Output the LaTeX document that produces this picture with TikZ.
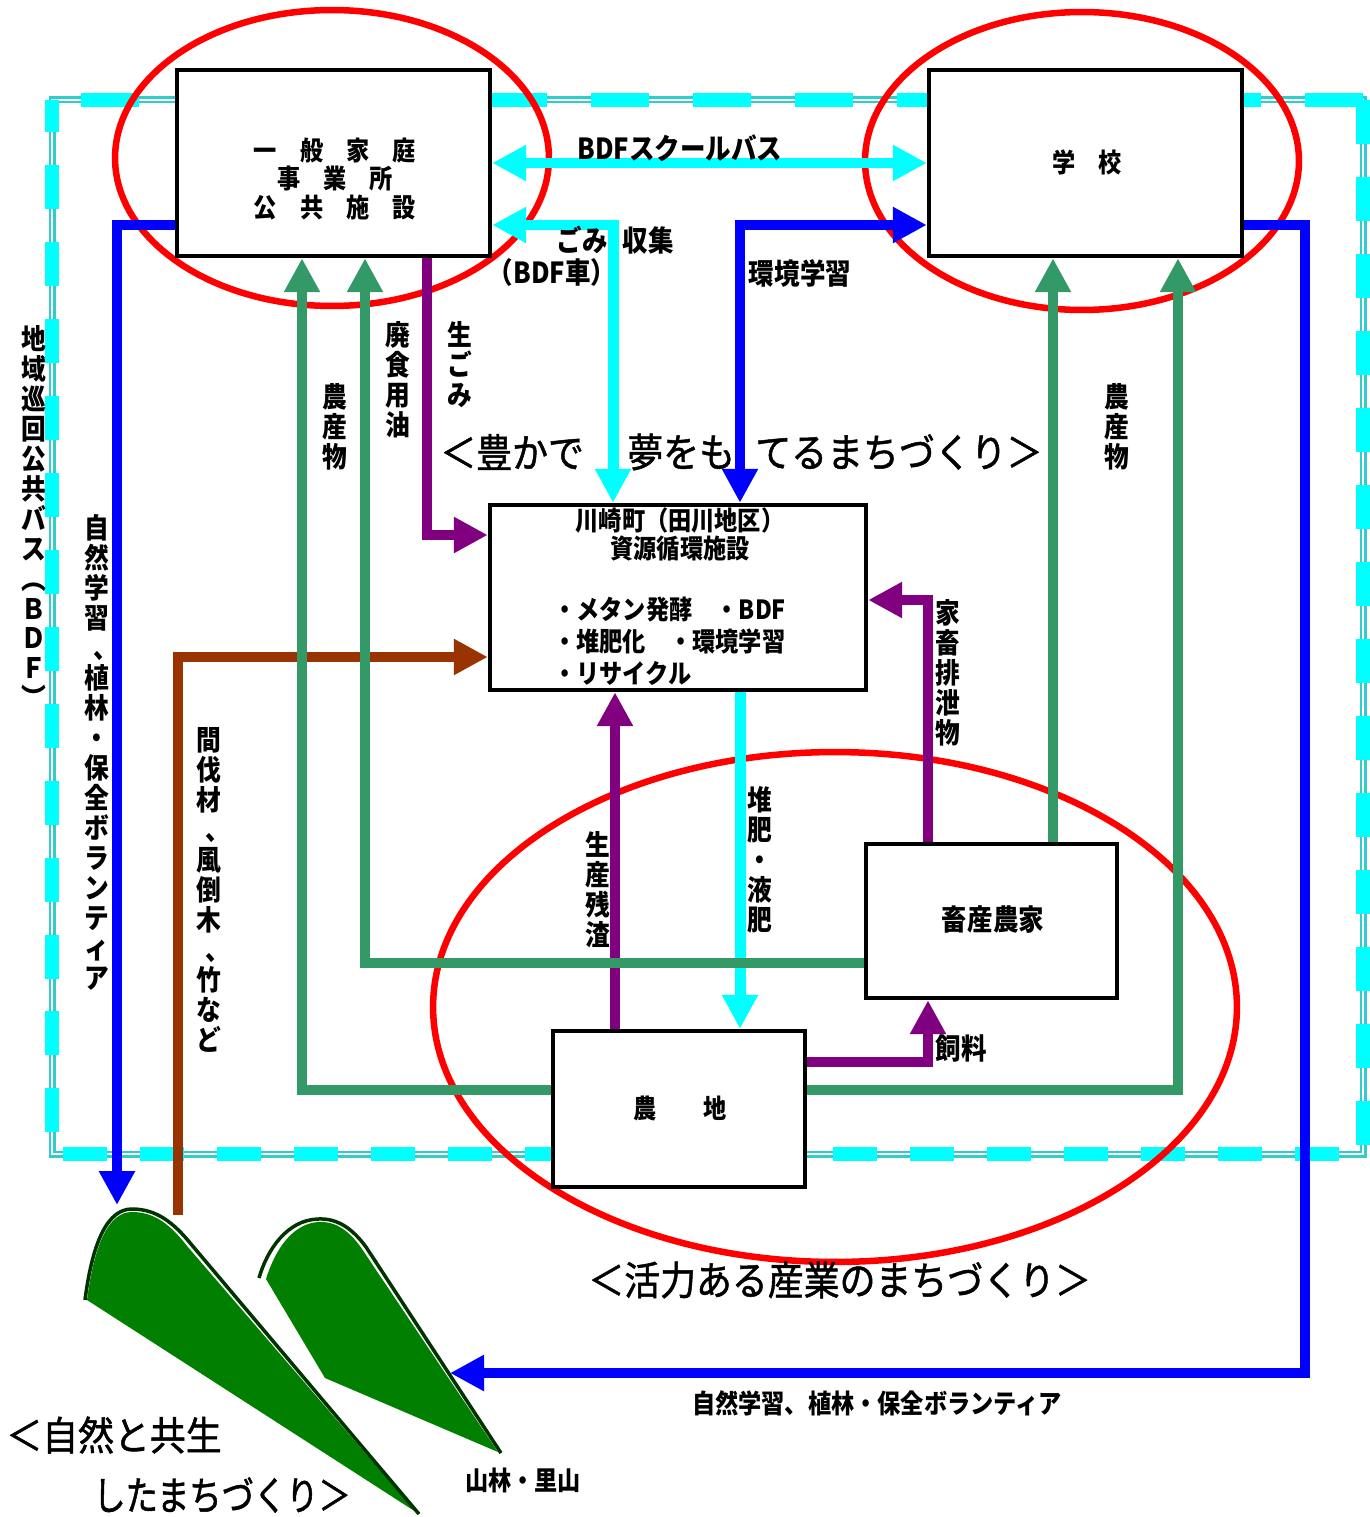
\documentclass[tikz,border=0pt]{standalone}
\usepackage{fontspec}
\setmainfont{Noto Sans CJK JP}
\newfontfamily\jpc{Noto Sans CJK JP}[FakeStretch=0.88]
\newfontfamily\jph{Noto Sans CJK JP}[FakeStretch=0.9, FakeBold=1.2]
\newfontfamily\jphn{Noto Sans CJK JP}[FakeStretch=0.81, FakeBold=1.2]
\usetikzlibrary{arrows.meta}

\definecolor{aqua}{HTML}{00FFFF}
\definecolor{aquadark}{HTML}{33CCCC}
\definecolor{flowblue}{HTML}{0000FF}
\definecolor{flowpurple}{HTML}{800080}
\definecolor{flowgreen}{HTML}{339966}
\definecolor{flowbrown}{HTML}{993300}
\definecolor{treefill}{HTML}{007F00}
\definecolor{treeedge}{HTML}{003300}

% vertical (top-to-bottom) text: one character per line at a fixed pitch
\newlength\vpitch
\setlength\vpitch{0.6cm}
\makeatletter
\def\vst@ck#1{\ifx\relax#1\else\hbox to 1em{\hss#1\hss}\expandafter\vst@ck\fi}
\newcommand\vlabel[1]{\vbox{\baselineskip\vpitch\lineskiplimit-\maxdimen\lineskip0pt\vst@ck#1\relax}}
\makeatother
% ideographic comma moved toward the middle of its cell in vertical text
\newcommand\vcomma{\kern0.3em 、\kern-0.3em}

\pgfdeclarelayer{frame}
\pgfdeclarelayer{links}
\pgfsetlayers{frame,links,main}

\tikzset{
  box/.style={draw=black, line width=0.09cm, fill=white, inner sep=0},
  tipA/.style={-{Triangle[length=0.68cm,width=0.68cm]}},
  tipAA/.style={{Triangle[length=0.68cm,width=0.68cm]}-{Triangle[length=0.68cm,width=0.68cm]}},
  flow/.style={line width=0.2cm},
  cyanflow/.style={flow, draw=aqua, line width=0.22cm},
  blueflow/.style={flow, draw=flowblue},
  purpleflow/.style={flow, draw=flowpurple, tipA},
  greenflow/.style={flow, draw=flowgreen, tipA},
  brownflow/.style={flow, draw=flowbrown, tipA},
  zone/.style={draw=red, line width=0.13cm},
  boxtext/.style={inner sep=0, align=center, font=\jpc\bfseries\fontsize{15}{18}\selectfont},
  lbl/.style={inner sep=0, align=center, font=\jpc\bfseries\fontsize{16.5}{19}\selectfont},
  vlbl/.style={inner sep=0, font=\jpc\bfseries\fontsize{16}{19}\selectfont},
  heading/.style={inner sep=0, anchor=west, font=\jph\fontsize{22.7}{26}\selectfont},
}

\begin{document}
\begin{tikzpicture}[x=0.02cm, y=-0.02cm]
\useasboundingbox (0,0) rectangle (1369,1517);

% ---------- boxes ----------
\node[box, minimum width=6.26cm, minimum height=3.72cm] (home) at (333.5,163) {};
\node[box, minimum width=6.26cm, minimum height=3.72cm] (school) at (1085.5,163) {};
\node[box, minimum width=7.52cm, minimum height=3.70cm] (facility) at (678,597.5) {};
\node[box, minimum width=5.02cm, minimum height=3.08cm] (livestock) at (991.5,921) {};
\node[box, minimum width=5.04cm, minimum height=3.12cm] (farm) at (679,1109) {};

% ---------- town boundary (dashed double line) ----------
\begin{pgfonlayer}{frame}
  \draw[aquadark, line width=0.14cm] (52,100) -- (1363,100) -- (1363,1154) -- (52,1154) -- cycle;
  \draw[white, line width=0.05cm] (52,100) -- (1363,100) -- (1363,1154) -- (52,1154) -- cycle;
  \draw[aqua, line width=0.28cm, dash pattern=on 1.16cm off 0.88cm] (1363,100) -- (52,100);
  \draw[aqua, line width=0.28cm, dash pattern=on 0.88cm off 0.66cm] (1363,100) -- (1363,1154) -- (52,1154) -- (52,100);
  % zones
  \draw[zone] (332,158) ellipse [x radius=4.34cm, y radius=2.96cm];
  \draw[zone] (1082,161) ellipse [x radius=4.34cm, y radius=2.98cm];
  \draw[zone] (835,1007) ellipse [x radius=8.04cm, y radius=5.1cm];
\end{pgfonlayer}

% ---------- mountain forest ----------
\fill[treefill] (87,1300) .. controls (95,1240) and (110,1212) .. (132,1212)
   .. controls (154,1212) and (170,1224) .. (187,1246) -- (416,1512) -- cycle;
\draw[treeedge, line width=0.07cm] (85,1300) .. controls (93,1238) and (109,1209) .. (132,1209)
   .. controls (156,1209) and (173,1222) .. (191,1244) -- (419,1514);
\fill[treefill] (266,1279) .. controls (275,1250) and (292,1224) .. (318,1222)
   .. controls (335,1221) and (349,1230) .. (362,1249) -- (498,1452) -- (325,1378) -- cycle;
\draw[treeedge, line width=0.07cm] (259,1278) .. controls (267,1250) and (287,1220) .. (318,1219)
   .. controls (337,1218) and (352,1228) .. (366,1247) -- (501,1453);
\coordinate (forestTouch) at (450,1373);
\coordinate (forestTop) at (117,1205);
\coordinate (woodStart) at (178,1215);
\coordinate (busCorner) at (1305,1373);

% ---------- flows ----------
\begin{pgfonlayer}{links}
  \draw[cyanflow, tipAA] (home.east) -- (school.west);
  \draw[cyanflow, tipAA] (home.east |- 0,225) -| (facility.north -| 613,0);
  \draw[blueflow, tipAA] (facility.north -| 740,0) |- (school.west |- 0,225);
  \draw[blueflow, tipA] (home.west |- 0,225) -| (forestTop);
  \draw[blueflow, tipA] (school.east |- 0,225) -| (busCorner) -- (forestTouch);

  \draw[purpleflow] (home.south -| 427,0) |- (facility.west |- 0,535);
  \draw[purpleflow] (farm.north -| 615,0) -- (facility.south -| 615,0);
  \draw[purpleflow] (livestock.north -| 928,0) |- (facility.east |- 0,600);
  \draw[purpleflow] (farm.east |- 0,1062) -| (livestock.south -| 928,0);

  \draw[cyanflow, tipA] (facility.south -| 740,0) -- (farm.north -| 740,0);
  \draw[brownflow] (woodStart) |- (facility.west |- 0,657);

  \draw[greenflow] (farm.west |- 0,1090) -| (home.south -| 302,0);
  \draw[greenflow] (livestock.west |- 0,963) -| (home.south -| 365,0);
  \draw[greenflow] (livestock.north -| 1053,0) -- (school.south -| 1053,0);
  \draw[greenflow] (farm.east |- 0,1090) -| (school.south -| 1178,0);
\end{pgfonlayer}

% ---------- box texts ----------
\node[boxtext] (homeText) at (335,179) {一　般　家　庭\\[-2pt]事　業　所\\[-2pt]公　共　施　設};
\node[boxtext] (schoolText) at (1087,162) {学　校};
\node[boxtext] (facTitle) at (680,534) {川崎町（田川地区）\\[-2pt]資源循環施設};
\node[boxtext, align=left, anchor=north west] (facList) at (553,597)
  {・メタン発酵　・BDF\\[0pt]・堆肥化　・環境学習\\[0pt]・リサイクル};
\node[lbl] (livestockText) at (993,920) {畜産農家};
\node[boxtext] (farmText) at (680,1108) {農　　地};

% ---------- flow labels ----------
\node[lbl] (busLbl) at (680,148) {BDFスクールバス};
\node[lbl] (garbLbl) at (582,240) {ごみ};
\node[lbl] (collectLbl) at (648,240) {収集};
\node[lbl] (garbCar) at (552,272) {（BDF車）};
\node[lbl] (envLbl) at (800,273) {環境学習};
\node[lbl] (feedLbl) at (961,1048) {飼料};

\node[vlbl] (prodL) at (335,427) {\vlabel{農産物}};
\node[vlbl] (oilL) at (398,380) {\vlabel{廃食用油}};
\node[vlbl] (foodL) at (460,365) {\vlabel{生ごみ}};
\node[vlbl] (prodR) at (1117,427) {\vlabel{農産物}};
\node[vlbl] (manureL) at (948,673) {\vlabel{家畜排泄物}};
\node[vlbl] (compostL) at (760,860) {\vlabel{堆肥・液肥}};
\node[vlbl] (residueL) at (598,890) {\vlabel{生産残渣}};
\node[vlbl] (woodL) at (209,890) {\vlabel{間伐材\vcomma 風倒木\vcomma 竹など}};
\node[vlbl] (natureL) at (97,752) {\vlabel{自然学習\vcomma 植林・保全ボランティア}};
\node[vlbl] (busL) at (34,517) {\vlabel{地域巡回公共バス︵ＢＤＦ︶}};

\node[boxtext] (natureH) at (877,1403) {自然学習、植林・保全ボランティア};
\node[boxtext] (forestL) at (523,1480) {山林・里山};

% ---------- headings ----------
\node[heading] (dreamH1) at (440,452) {＜豊かで};
\node[heading] (dreamH2) at (627,452) {夢をも};
\node[heading] (dreamH3) at (755,452) {てるまちづくり＞};
\node[heading] (industryH) at (588,1280) {＜活力ある産業のまちづくり＞};
\node[heading] (natureH1) at (6,1435) {＜自然と共生};
\node[heading, font=\jphn\fontsize{22.7}{26}\selectfont] (natureH2) at (93,1495) {したまちづくり＞};
\end{tikzpicture}
\end{document}
